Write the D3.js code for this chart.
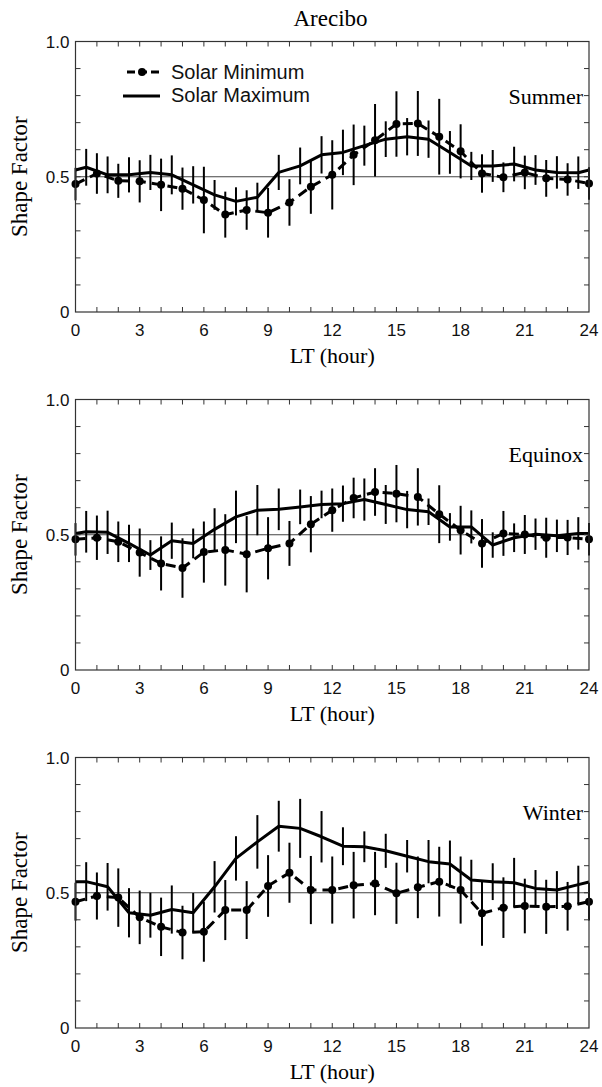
<!DOCTYPE html>
<html><head><meta charset="utf-8">
<script src="https://cdn.jsdelivr.net/npm/d3@7"></script>
<style>body{margin:0;background:#fff}svg{display:block}</style>
</head><body>
<script>
// ---- data ----
const seasons = ["Summer", "Equinox", "Winter"];
const hoursMin = [0,1,2,3,4,5,6,7,8,9,10,11,12,13,14,15,16,17,18,19,20,21,22,23,24];
const hoursMax = [0,0.5,1.5,2.5,3.5,4.5,5.5,6.5,7.5,8.5,9.5,10.5,11.5,12.5,13.5,14.5,15.5,16.5,17.5,18.5,19.5,20.5,21.5,22.5,23.5,24];
const xTicks = [0,3,6,9,12,15,18,21,24];
const yTickLabels = [0, 0.5, 1.0];

const summerMin = [0.473,0.512,0.485,0.483,0.47,0.456,0.414,0.36,0.377,0.367,0.405,0.463,0.507,0.581,0.635,0.695,0.697,0.648,0.594,0.512,0.498,0.516,0.494,0.49,0.475];
const summerMinErr = [0.06,0.075,0.063,0.078,0.097,0.078,0.123,0.085,0.073,0.092,0.086,0.10,0.128,0.112,0.134,0.121,0.12,0.14,0.1,0.071,0.055,0.062,0.068,0.06,0.06];
const summerMax = [0.525,0.535,0.507,0.507,0.516,0.507,0.47,0.433,0.409,0.424,0.516,0.54,0.581,0.59,0.615,0.639,0.648,0.639,0.59,0.54,0.54,0.547,0.525,0.516,0.515,0.525];
const summerMaxErr = [null,0.068,0.068,0.065,0.065,0.072,0.069,0.055,0.052,0.054,0.065,0.068,0.069,0.084,0.074,0.066,0.069,0.069,0.079,0.052,0.059,0.064,0.055,0.06,0.06,null];

const equinoxMin = [0.483,0.489,0.474,0.434,0.394,0.377,0.436,0.444,0.428,0.45,0.468,0.539,0.591,0.636,0.658,0.652,0.64,0.576,0.517,0.468,0.505,0.501,0.489,0.49,0.483];
const equinoxMinErr = [0.06,0.082,0.075,0.089,0.1,0.11,0.113,0.132,0.141,0.115,0.083,0.104,0.08,0.075,0.088,0.106,0.106,0.107,0.09,0.09,0.083,0.072,0.074,0.065,0.06];
const equinoxMax = [0.505,0.511,0.509,0.468,0.425,0.478,0.468,0.52,0.566,0.591,0.594,0.603,0.612,0.615,0.63,0.612,0.593,0.585,0.529,0.529,0.462,0.489,0.502,0.496,0.505,0.505];
const equinoxMaxErr = [null,0.077,0.08,0.069,0.055,0.067,0.055,0.078,0.097,0.093,0.077,0.064,0.051,0.067,0.078,0.072,0.069,0.049,0.051,0.061,0.047,0.053,0.058,0.06,0.06,null];

const winterMin = [0.467,0.488,0.482,0.409,0.374,0.353,0.356,0.436,0.436,0.525,0.574,0.51,0.51,0.528,0.534,0.498,0.52,0.541,0.51,0.424,0.445,0.451,0.448,0.45,0.467];
const winterMinErr = [0.07,0.087,0.108,0.099,0.108,0.099,0.111,0.111,0.107,0.114,0.111,0.126,0.124,0.123,0.117,0.113,0.114,0.129,0.124,0.12,0.112,0.101,0.1,0.09,0.07];
const winterMax = [0.541,0.541,0.522,0.426,0.417,0.438,0.426,0.522,0.627,0.688,0.746,0.738,0.707,0.672,0.67,0.655,0.635,0.615,0.606,0.547,0.541,0.537,0.516,0.51,0.53,0.54];
const winterMaxErr = [null,0.072,0.088,0.091,0.083,0.089,0.073,0.095,0.082,0.099,0.094,0.109,0.095,0.07,0.057,0.063,0.06,0.08,0.087,0.075,0.068,0.092,0.068,0.07,0.07,null];

const panels = [
  {name: seasons[0], min: summerMin, minErr: summerMinErr, max: summerMax, maxErr: summerMaxErr},
  {name: seasons[1], min: equinoxMin, minErr: equinoxMinErr, max: equinoxMax, maxErr: equinoxMaxErr},
  {name: seasons[2], min: winterMin, minErr: winterMinErr, max: winterMax, maxErr: winterMaxErr}
];

// ---- layout ----
const W = 602, H = 1087;
const left = 75.5, right = 589;
const top0 = 41.5, step = 358, ph = 270.5;
const serif = "'Liberation Serif','Times New Roman',serif";
const sans = "'Liberation Sans',Arial,sans-serif";

const svg = d3.select("body").append("svg").attr("width", W).attr("height", H);

const x = d3.scaleLinear().domain([0, 24]).range([left, right]);

svg.append("text").attr("x", 330.5).attr("y", 26)
  .attr("text-anchor", "middle").style("font-family", serif).style("font-size", "23px")
  .text("Arecibo");

panels.forEach((p, i) => {
  const top = top0 + i * step, bottom = top + ph;
  const y = d3.scaleLinear().domain([0, 1]).range([bottom, top]);
  const g = svg.append("g");

  // reference line at 0.5
  g.append("line").attr("x1", x(0)).attr("x2", x(24)).attr("y1", y(0.5)).attr("y2", y(0.5))
    .attr("stroke", "#444").attr("stroke-width", 1);

  // error bars
  const bars = [];
  hoursMin.forEach((h, k) => bars.push({h, v: p.min[k], e: p.minErr[k]}));
  hoursMax.forEach((h, k) => { if (p.maxErr[k] != null) bars.push({h, v: p.max[k], e: p.maxErr[k]}); });
  g.selectAll(".eb").data(bars).join("line")
    .attr("x1", d => x(d.h)).attr("x2", d => x(d.h))
    .attr("y1", d => y(d.v - d.e)).attr("y2", d => y(d.v + d.e))
    .attr("stroke", "#000").attr("stroke-width", 2);

  // lines
  const lineMin = d3.line().x((d, k) => x(hoursMin[k])).y(d => y(d));
  const lineMax = d3.line().x((d, k) => x(hoursMax[k])).y(d => y(d));
  g.append("path").attr("d", lineMax(p.max)).attr("fill", "none")
    .attr("stroke", "#000").attr("stroke-width", 3).attr("stroke-linejoin", "round");
  g.append("path").attr("d", lineMin(p.min)).attr("fill", "none")
    .attr("stroke", "#000").attr("stroke-width", 3).attr("stroke-dasharray", "10,6");
  g.selectAll(".mk").data(p.min).join("circle")
    .attr("cx", (d, k) => x(hoursMin[k])).attr("cy", d => y(d)).attr("r", 4).attr("fill", "#000");

  // frame
  g.append("rect").attr("x", left).attr("y", top).attr("width", right - left).attr("height", ph)
    .attr("fill", "none").attr("stroke", "#333").attr("stroke-width", 1.2);

  // ticks (inside)
  const tl = 5;
  const hrs = d3.range(1, 24);
  g.selectAll(".tb").data(hrs).join("line")
    .attr("x1", d => x(d)).attr("x2", d => x(d)).attr("y1", bottom).attr("y2", bottom - tl)
    .attr("stroke", "#333");
  g.selectAll(".tt").data(hrs).join("line")
    .attr("x1", d => x(d)).attr("x2", d => x(d)).attr("y1", top).attr("y2", top + tl)
    .attr("stroke", "#333");
  const yt = d3.range(1, 10).map(d => d / 10);
  g.selectAll(".tlft").data(yt).join("line")
    .attr("x1", left).attr("x2", left + tl).attr("y1", d => y(d)).attr("y2", d => y(d))
    .attr("stroke", "#333");
  g.selectAll(".trgt").data(yt).join("line")
    .attr("x1", right).attr("x2", right - tl).attr("y1", d => y(d)).attr("y2", d => y(d))
    .attr("stroke", "#333");

  // tick labels
  g.selectAll(".xl").data(xTicks).join("text")
    .attr("x", d => x(d)).attr("y", bottom + 24).attr("text-anchor", "middle")
    .style("font-family", sans).style("font-size", "17px").attr("fill", "#111").text(d => d);
  g.selectAll(".yl").data(yTickLabels).join("text")
    .attr("x", left - 6).attr("y", d => y(d) + 6).attr("text-anchor", "end")
    .style("font-family", sans).style("font-size", "17px").attr("fill", "#111")
    .text(d => d === 0 ? "0" : d.toFixed(1));

  // axis titles
  g.append("text").attr("x", (left + right) / 2).attr("y", bottom + 51).attr("text-anchor", "middle")
    .style("font-family", serif).style("font-size", "22px").text("LT (hour)");
  g.append("text").attr("transform", `translate(27,${(top + bottom) / 2}) rotate(-90)`)
    .attr("text-anchor", "middle").style("font-family", serif).style("font-size", "23px").text("Shape Factor");

  // season label
  g.append("text").attr("x", right - 6).attr("y", top + 62).attr("text-anchor", "end")
    .style("font-family", serif).style("font-size", "22px").text(p.name);

  // legend in first panel
  if (i === 0) {
    const ly1 = 72, ly2 = 96;
    g.append("line").attr("x1", 127).attr("x2", 160).attr("y1", ly1).attr("y2", ly1)
      .attr("stroke", "#000").attr("stroke-width", 3).attr("stroke-dasharray", "8,4");
    g.append("circle").attr("cx", 142).attr("cy", ly1).attr("r", 4).attr("fill", "#000");
    g.append("line").attr("x1", 123).attr("x2", 160).attr("y1", ly2).attr("y2", ly2)
      .attr("stroke", "#000").attr("stroke-width", 3);
    g.append("text").attr("x", 171).attr("y", ly1 + 7).style("font-family", sans).style("font-size", "20px")
      .attr("fill", "#111").text("Solar Minimum");
    g.append("text").attr("x", 171).attr("y", ly2 + 6).style("font-family", sans).style("font-size", "20px")
      .attr("fill", "#111").text("Solar Maximum");
  }
});
</script>
</body></html>
